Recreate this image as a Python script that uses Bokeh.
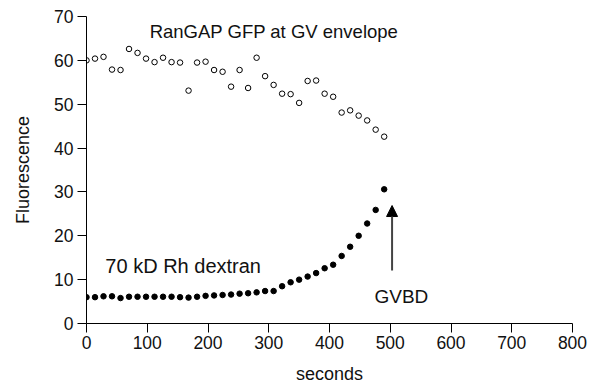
from bokeh.plotting import figure
from bokeh.models import Range1d, FixedTicker, Arrow, NormalHead, Label, ColumnDataSource
from bokeh.embed import file_html
from bokeh.resources import INLINE

# time points (seconds)
seconds = [i * 14 for i in range(36)]

# RanGAP GFP at GV envelope (open circles)
rangap_gfp = [60.0, 60.4, 60.8, 57.9, 57.8, 62.6, 61.7, 60.4, 59.6, 60.6,
              59.6, 59.5, 53.1, 59.5, 59.7, 57.8, 57.4, 54.0, 57.8, 53.7,
              60.6, 56.4, 54.4, 52.4, 52.3, 50.3, 55.3, 55.4, 52.4, 51.7,
              48.1, 48.6, 47.4, 46.3, 44.2, 42.6]

# 70 kD Rh dextran (filled dots)
rh_dextran = [6.0, 6.0, 6.2, 6.2, 5.8, 6.1, 6.1, 6.1, 6.1, 6.1,
              6.1, 6.0, 5.9, 6.1, 6.3, 6.4, 6.5, 6.6, 6.8, 6.9,
              7.1, 7.4, 7.4, 8.5, 9.4, 10.0, 10.7, 11.5, 12.6, 13.4,
              15.4, 17.5, 20.0, 22.8, 25.9, 30.6]

x_ticks = [0, 100, 200, 300, 400, 500, 600, 700, 800]
y_ticks = [0, 10, 20, 30, 40, 50, 60, 70]

FONT = "Liberation Sans"

p = figure(width=593, height=388, output_backend="svg", toolbar_location=None,
           x_range=Range1d(0, 800), y_range=Range1d(0, 70))
p.min_border_left = 86
p.min_border_right = 21
p.min_border_top = 16
p.min_border_bottom = 65
p.outline_line_color = None
p.grid.visible = False
p.background_fill_color = "white"
p.border_fill_color = "white"

for ax in (p.xaxis[0], p.yaxis[0]):
    ax.axis_line_color = "black"
    ax.axis_line_width = 1
    ax.major_tick_line_color = "black"
    ax.major_tick_in = 0
    ax.major_tick_out = 9
    ax.minor_tick_line_color = None
    ax.major_label_text_font = FONT
    ax.major_label_text_font_size = "17.5px"
    ax.major_label_text_color = "#111111"
    ax.axis_label_text_font = FONT
    ax.axis_label_text_font_size = "18px"
    ax.axis_label_text_font_style = "normal"
    ax.axis_label_text_color = "#111111"

p.xaxis[0].ticker = FixedTicker(ticks=x_ticks)
p.yaxis[0].ticker = FixedTicker(ticks=y_ticks)
p.xaxis[0].axis_label = "seconds"
p.yaxis[0].axis_label = "Fluorescence"
p.xaxis[0].major_label_standoff = 3
p.yaxis[0].major_label_standoff = 4
p.xaxis[0].axis_label_standoff = 12
p.yaxis[0].axis_label_standoff = 18

src = ColumnDataSource(dict(x=seconds, gfp=rangap_gfp, dex=rh_dextran))
p.scatter("x", "gfp", source=src, size=5.5, marker="circle",
          fill_color="white", line_color="black", line_width=1)
p.scatter("x", "dex", source=src, size=5.5, marker="circle",
          fill_color="black", line_color="black")

# GVBD arrow
arrow_x = 503
arrow_y_start = 12.1
arrow_y_end = 26.9
p.add_layout(Arrow(end=NormalHead(size=11, fill_color="black", line_color="black"),
                   x_start=arrow_x, y_start=arrow_y_start, x_end=arrow_x, y_end=arrow_y_end,
                   line_color="#444444", line_width=2))

labels = [("RanGAP GFP at GV envelope", 104, 66.6, "18.5px"),
          ("70 kD Rh dextran", 31, 13.2, "20px"),
          ("GVBD", 474, 6.1, "19px")]
for txt, lx, ly, fs in labels:
    p.add_layout(Label(x=lx, y=ly, text=txt, text_font=FONT, text_font_size=fs,
                       text_color="#111111", text_baseline="alphabetic", text_align="left"))

open("out.html", "w").write(file_html(p, INLINE))
